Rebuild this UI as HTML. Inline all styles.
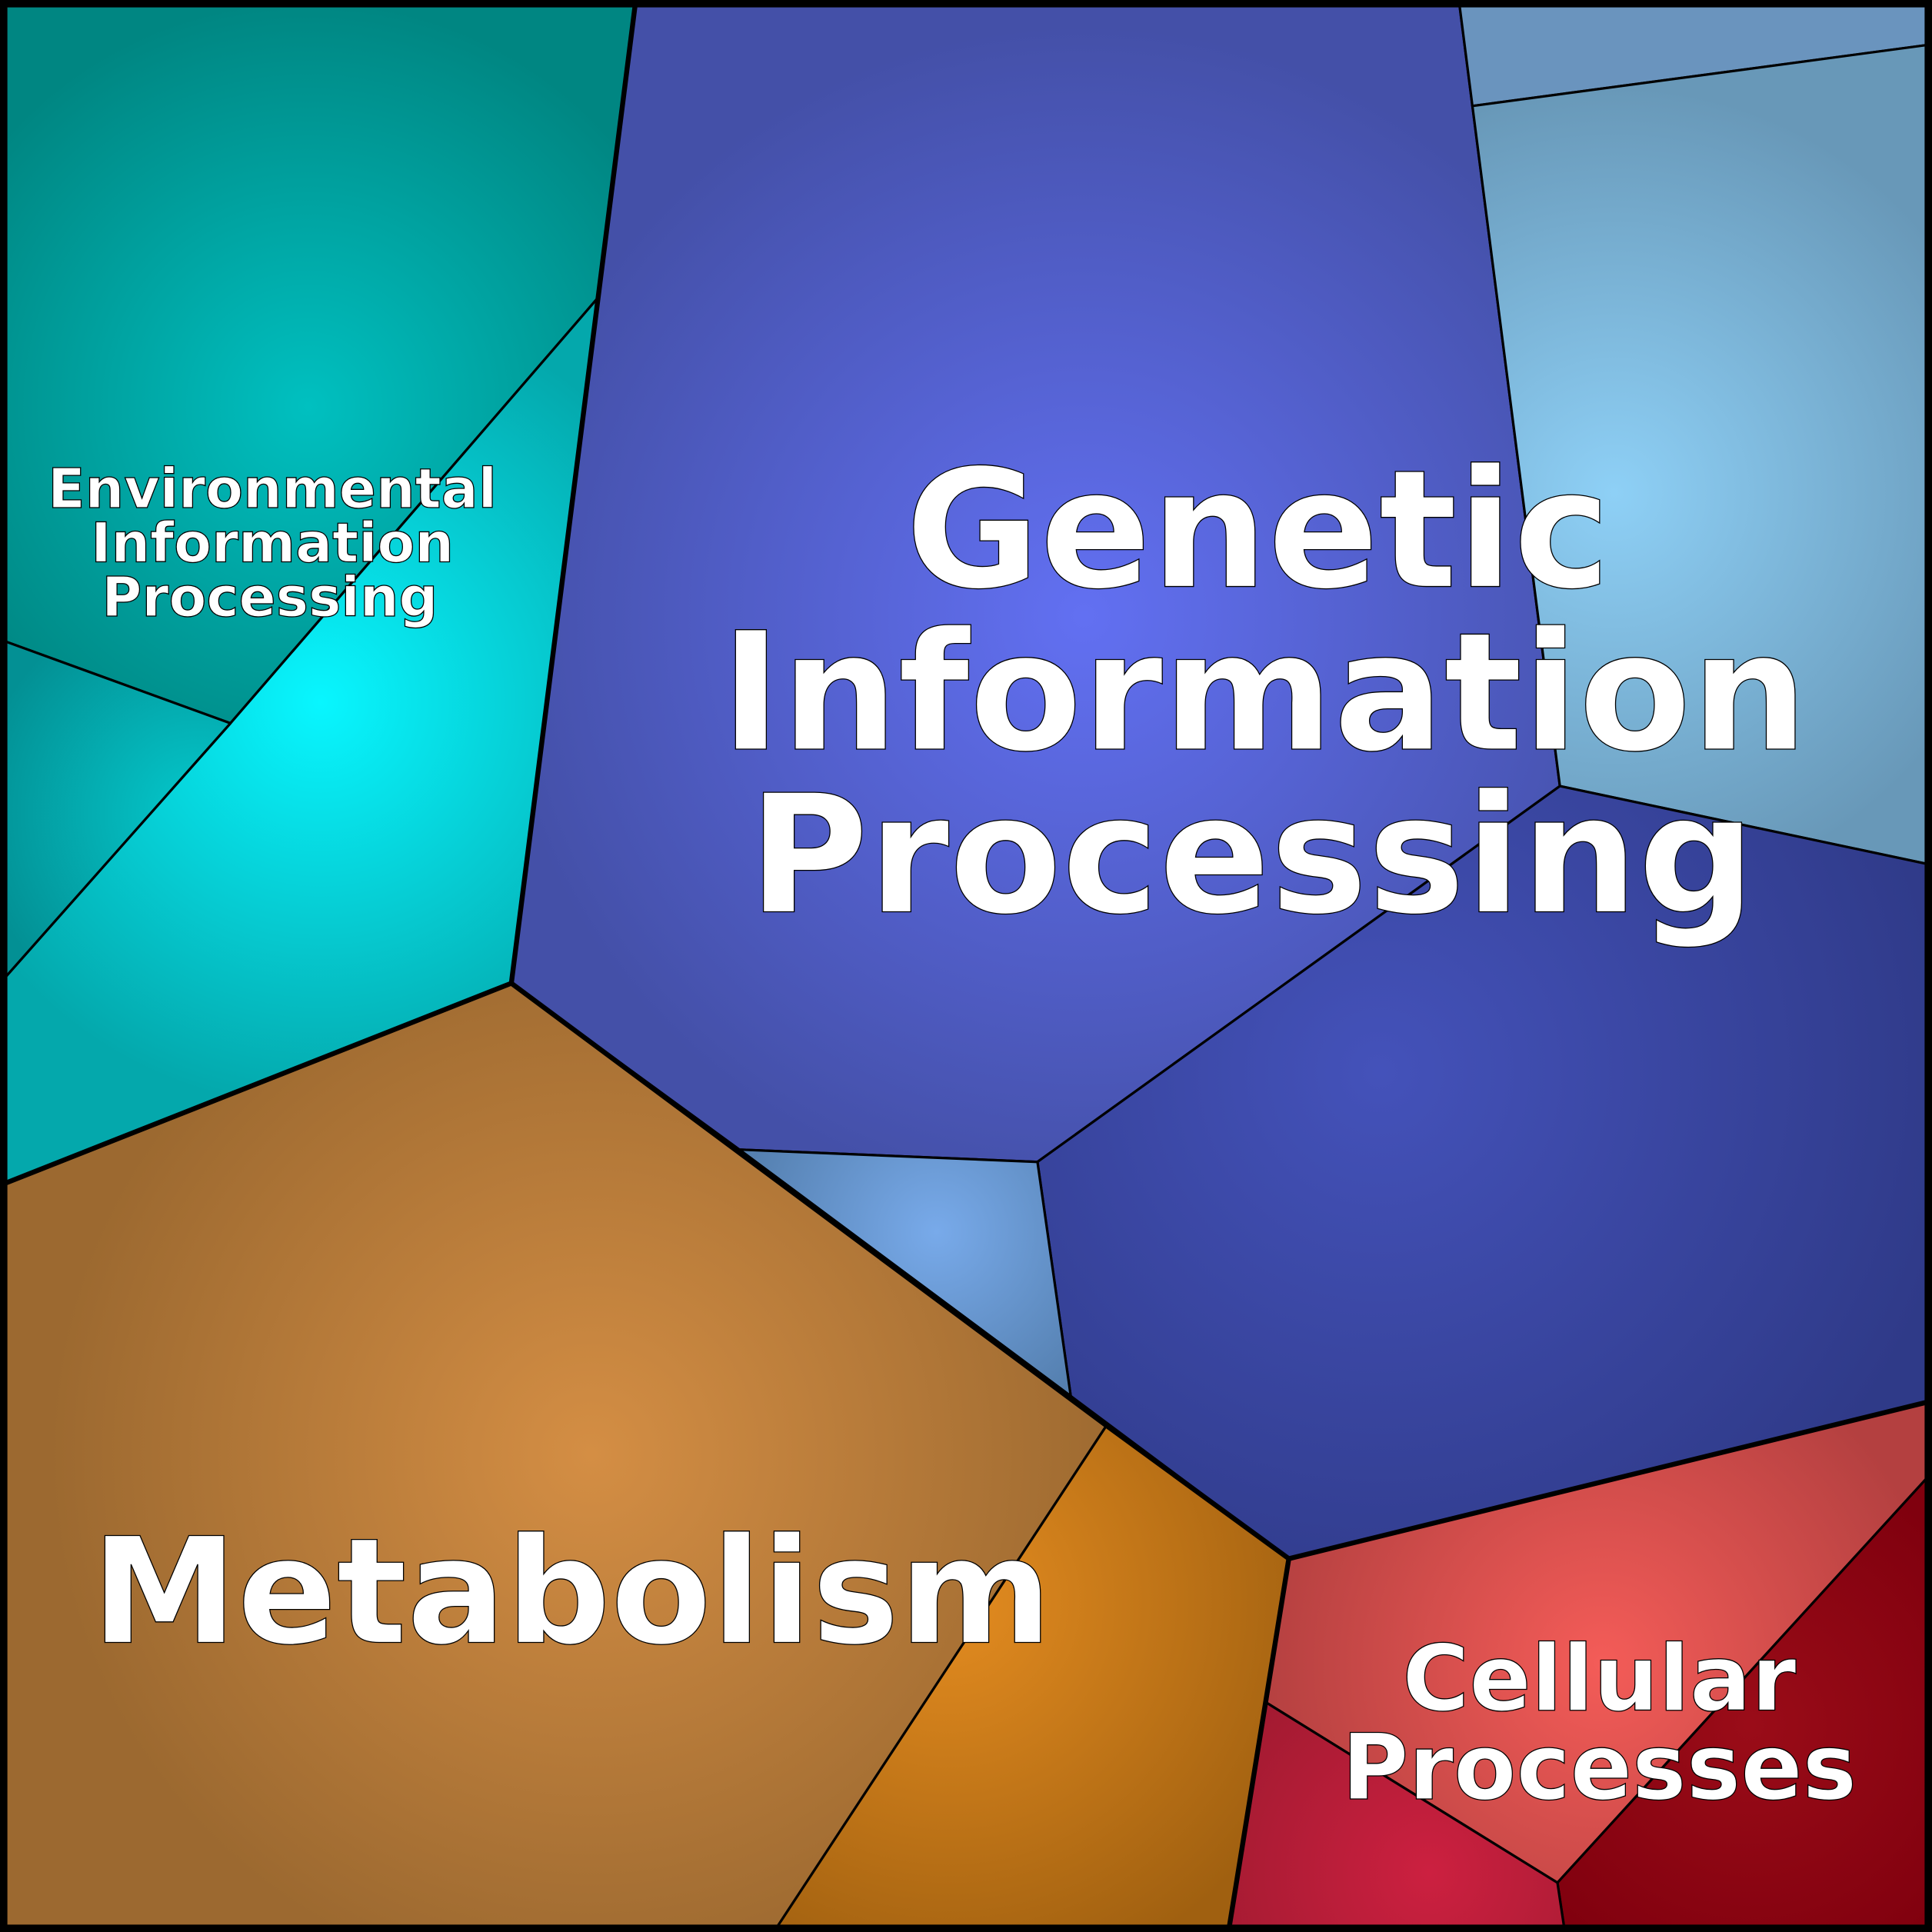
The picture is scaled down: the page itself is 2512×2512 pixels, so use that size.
<!DOCTYPE html>
<html><head><meta charset="utf-8"><style>
html,body{margin:0;padding:0;background:#fff;}
svg{display:block;}
text{font-family:"DejaVu Sans","Liberation Sans",sans-serif;font-weight:bold;fill:#fff;stroke:#000;stroke-width:0.8;text-anchor:middle;}
</style></head><body>
<svg width="2512" height="2512" viewBox="0 0 1568 1568" xmlns="http://www.w3.org/2000/svg">
<defs>
<radialGradient id="g1" cx="250" cy="330" r="330" gradientUnits="userSpaceOnUse"><stop offset="0" stop-color="#00c0c0"/><stop offset="1" stop-color="#008682"/></radialGradient>
<radialGradient id="g2" cx="260" cy="570" r="330" gradientUnits="userSpaceOnUse"><stop offset="0" stop-color="#08f6ff"/><stop offset="1" stop-color="#04a8ac"/></radialGradient>
<radialGradient id="g3" cx="160" cy="660" r="180" gradientUnits="userSpaceOnUse"><stop offset="0" stop-color="#04c8cc"/><stop offset="1" stop-color="#039094"/></radialGradient>
<radialGradient id="g4" cx="880" cy="500" r="480" gradientUnits="userSpaceOnUse"><stop offset="0" stop-color="#6270f2"/><stop offset="1" stop-color="#4450a8"/></radialGradient>
<radialGradient id="g5" cx="1310" cy="400" r="330" gradientUnits="userSpaceOnUse"><stop offset="0" stop-color="#8ed0f6"/><stop offset="1" stop-color="#6898b8"/></radialGradient>
<radialGradient id="g6" cx="1120" cy="870" r="480" gradientUnits="userSpaceOnUse"><stop offset="0" stop-color="#4452ba"/><stop offset="1" stop-color="#2f3a88"/></radialGradient>
<radialGradient id="g7" cx="760" cy="1000" r="160" gradientUnits="userSpaceOnUse"><stop offset="0" stop-color="#78aaea"/><stop offset="1" stop-color="#5580b0"/></radialGradient>
<radialGradient id="g8" cx="480" cy="1180" r="440" gradientUnits="userSpaceOnUse"><stop offset="0" stop-color="#d48e44"/><stop offset="1" stop-color="#9c6930"/></radialGradient>
<radialGradient id="g9" cx="770" cy="1300" r="320" gradientUnits="userSpaceOnUse"><stop offset="0" stop-color="#e48c20"/><stop offset="1" stop-color="#a06010"/></radialGradient>
<radialGradient id="g10" cx="1300" cy="1350" r="280" gradientUnits="userSpaceOnUse"><stop offset="0" stop-color="#f45c58"/><stop offset="1" stop-color="#b44040"/></radialGradient>
<radialGradient id="g11" cx="1420" cy="1400" r="220" gradientUnits="userSpaceOnUse"><stop offset="0" stop-color="#9a0c18"/><stop offset="1" stop-color="#80000e"/></radialGradient>
<radialGradient id="g12" cx="1160" cy="1520" r="200" gradientUnits="userSpaceOnUse"><stop offset="0" stop-color="#cc2040"/><stop offset="1" stop-color="#a01a30"/></radialGradient>
</defs>
<g stroke="#000" stroke-width="2" stroke-linejoin="round">
<polygon fill="url(#g1)" points="0,0 516,0 485,242 187,587 0,519"/>
<polygon fill="url(#g2)" points="485,242 415,798 0,962 0,798 187,587"/>
<polygon fill="url(#g3)" points="0,519 187,587 0,798"/>
<polygon fill="url(#g4)" points="516,0 1184,0 1195,86 1266,638 842,943 600,933 415,798"/>
<polygon fill="#6a94be" points="1184,0 1568,0 1568,36 1195,86"/>
<polygon fill="url(#g5)" points="1195,86 1568,36 1568,702 1266,638"/>
<polygon fill="url(#g6)" points="1266,638 1568,702 1568,1137 1046,1265 869,1133 842,943"/>
<polygon fill="url(#g7)" points="600,933 842,943 869,1133"/>
<polygon fill="url(#g8)" points="0,962 415,798 600,933 869,1133 898,1157 628,1568 0,1568"/>
<polygon fill="url(#g9)" points="898,1157 1046,1265 997,1568 628,1568"/>
<polygon fill="url(#g10)" points="1046,1265 1568,1137 1568,1195 1264,1528 1028,1382"/>
<polygon fill="url(#g11)" points="1568,1195 1568,1568 1270,1568 1264,1528"/>
<polygon fill="url(#g12)" points="1028,1382 1264,1528 1270,1568 997,1568"/>
</g>
<g fill="none" stroke="#000" stroke-width="4" stroke-linejoin="round">
<polyline points="516,0 415,798 0,962"/>
<polyline points="415,798 898,1157 1046,1265 1568,1137"/>
<polyline points="1046,1265 997,1568"/>
</g>
<rect x="3" y="3" width="1562" height="1562" fill="none" stroke="#000" stroke-width="6"/>
<text font-size="133" x="1021" y="476">Genetic</text>
<text font-size="133" x="1026" y="608">Information</text>
<text font-size="133" x="1016" y="740">Processing</text>
<text font-size="119" x="464" y="1333">Metabolism</text>
<text font-size="44.4" x="221" y="412">Environmental</text>
<text font-size="44.4" x="221" y="456">Information</text>
<text font-size="44.4" x="219" y="500">Processing</text>
<text font-size="74" x="1298" y="1388">Cellular</text>
<text font-size="74" x="1298" y="1460">Processes</text>
</svg>
</body></html>
